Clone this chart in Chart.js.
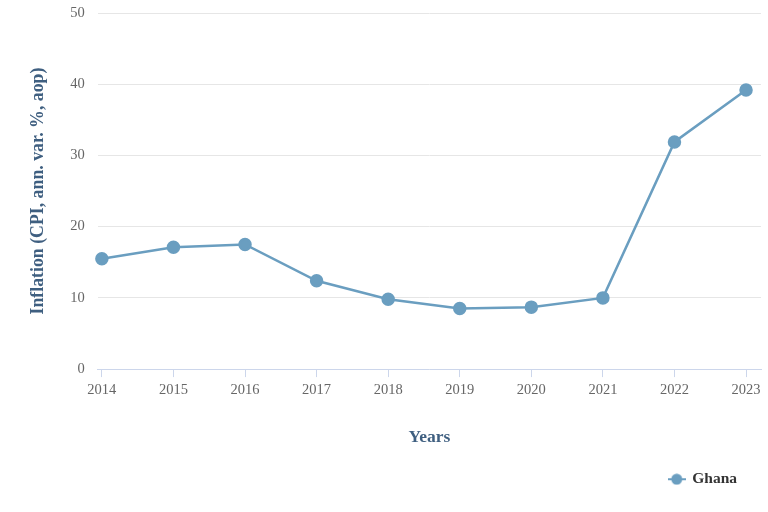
<!DOCTYPE html>
<html>
<head>
<meta charset="utf-8">
<script src="https://cdn.jsdelivr.net/npm/chart.js@4"></script>
<style>
  body { margin: 0; background: #fff; }
  #wrap { width: 768px; height: 512px; }
</style>
</head>
<body>
<div id="wrap"><canvas id="inflationChart" width="768" height="512"></canvas></div>
<script>
const years = [2014, 2015, 2016, 2017, 2018, 2019, 2020, 2021, 2022, 2023];
const ghanaInflation = [15.5, 17.1, 17.5, 12.4, 9.8, 8.5, 8.7, 10.0, 31.9, 39.2];
const yTicks = [0, 10, 20, 30, 40, 50];

const lineColor = '#6a9ec0';
const serif = '"Liberation Serif", "DejaVu Serif", serif';

// legend symbol: short line with a dot, like the original
function legendSymbol() {
    const c = document.createElement('canvas');
    c.width = 18; c.height = 12;
    const g = c.getContext('2d');
    g.strokeStyle = lineColor;
    g.lineWidth = 2;
    g.beginPath(); g.moveTo(0, 6); g.lineTo(18, 6); g.stroke();
    g.fillStyle = lineColor;
    g.beginPath(); g.arc(9, 6, 5.5, 0, Math.PI * 2); g.fill();
    return c;
}

const ctx = document.getElementById('inflationChart').getContext('2d');
new Chart(ctx, {
    type: 'line',
    data: {
        datasets: [{
            label: 'Ghana',
            data: years.map((y, i) => ({ x: y, y: ghanaInflation[i] })),
            borderColor: lineColor,
            backgroundColor: lineColor,
            borderWidth: 2.5,
            pointRadius: 5.5,
            pointHoverRadius: 6,
            tension: 0,
            clip: false
        }]
    },
    options: {
        responsive: false,
        animation: false,
        layout: { autoPadding: false, padding: { top: 0, left: 28, right: 7, bottom: 15 } },
        scales: {
            x: {
                type: 'linear',
                min: 2013.944,
                max: 2023.209,
                border: { color: '#ccd6eb', width: 1 },
                grid: { drawOnChartArea: false, drawTicks: true, tickLength: 8, color: '#ccd6eb' },
                ticks: {
                    stepSize: 1,
                    includeBounds: false,
                    color: '#666666',
                    font: { family: serif, size: 14.5 },
                    padding: 4,
                    callback: v => String(v)
                },
                title: {
                    display: true,
                    text: 'Years',
                    color: '#3f5f80',
                    font: { family: serif, size: 17.5, weight: 'bold' },
                    padding: { top: 24, bottom: 0 }
                }
            },
            y: {
                min: 0,
                max: 50,
                afterBuildTicks: axis => { axis.ticks = yTicks.map(v => ({ value: v })); },
                // keep the label gap on the left without pushing the plot top down
                afterFit: axis => { axis.paddingTop = 13; axis.paddingBottom = 9; },
                border: { display: false },
                grid: { color: '#e6e6e6', drawTicks: false },
                ticks: {
                    color: '#666666',
                    font: { family: serif, size: 14.5 },
                    padding: 13
                },
                title: {
                    display: true,
                    text: 'Inflation (CPI, ann. var. %, aop)',
                    color: '#3f5f80',
                    font: { family: serif, size: 17.8, weight: 'bold' },
                    padding: { top: 0, bottom: 8 }
                }
            }
        },
        plugins: {
            tooltip: { enabled: false },
            legend: {
                position: 'bottom',
                align: 'end',
                labels: {
                    usePointStyle: true,
                    color: '#333333',
                    font: { family: serif, size: 15.5, weight: 'bold' },
                    padding: 24,
                    generateLabels: chart => chart.data.datasets.map((d, i) => ({
                        text: d.label,
                        pointStyle: legendSymbol(),
                        fontColor: '#333333',
                        datasetIndex: i
                    }))
                }
            }
        }
    }
});
</script>
</body>
</html>
